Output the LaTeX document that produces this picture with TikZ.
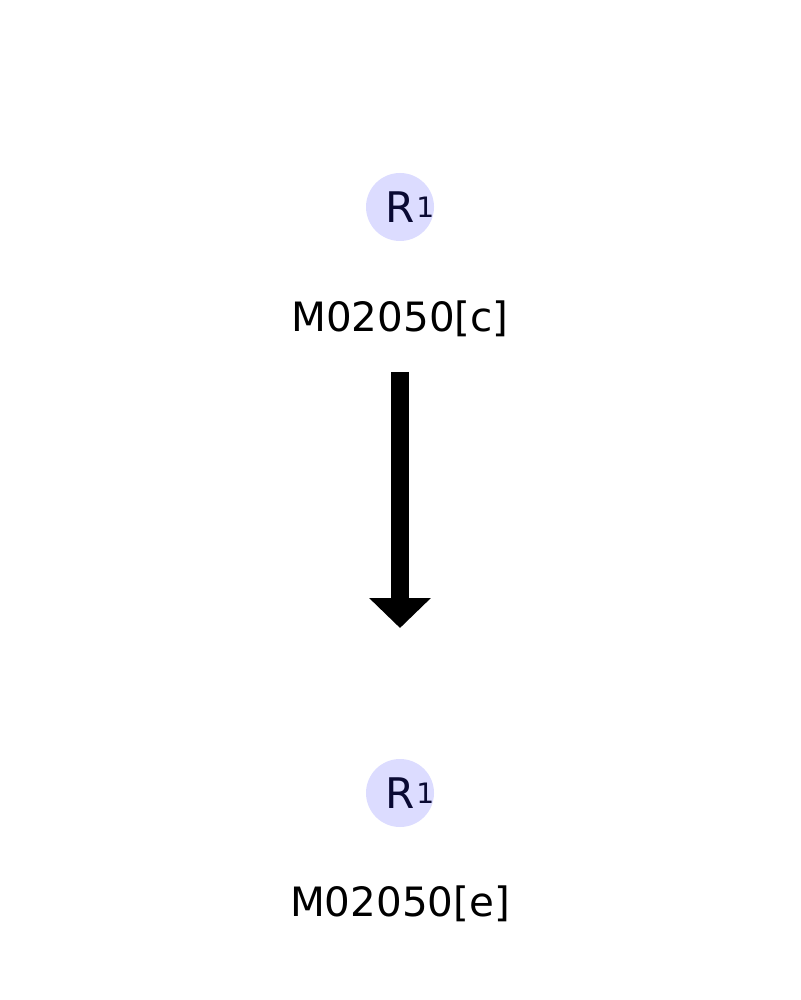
\documentclass[tikz,border=0pt]{standalone}
\usepackage{fontspec}
\setmainfont{DejaVu Sans}
\usetikzlibrary{arrows.meta,positioning}
\definecolor{rbg}{HTML}{DCDCFF}
\definecolor{rtxt}{HTML}{0A0A33}
\newcommand{\rone}{R\rlap{\kern0.5pt\raisebox{1.3pt}{\fontsize{8}{9}\selectfont 1}}}

\begin{document}
\begin{tikzpicture}[
  rgrp/.style={circle, fill=rbg, minimum size=6.8mm, inner sep=0pt,
               text=rtxt, font=\fontsize{12}{14}\selectfont},
  lbl/.style={font=\fontsize{11.5}{14}\selectfont},
]
\useasboundingbox (0,0) rectangle (8,-10);
% substrate
\node[rgrp] (r1) at (4,-2.07) {\rone};
\node[lbl] (m1) at (4,-3.19) {M02050[c]};
% product
\node[rgrp] (r2) at (4,-7.93) {\rone};
\node[lbl] (m2) at (4,-9.04) {M02050[e]};
% transport
\coordinate (a1) at (4,-3.72);
\coordinate (a2) at (4,-6.28);
\draw[line width=1.8mm, -{Triangle[width=6mm,length=3mm]}] (a1) -- (a2);
\end{tikzpicture}
\end{document}
